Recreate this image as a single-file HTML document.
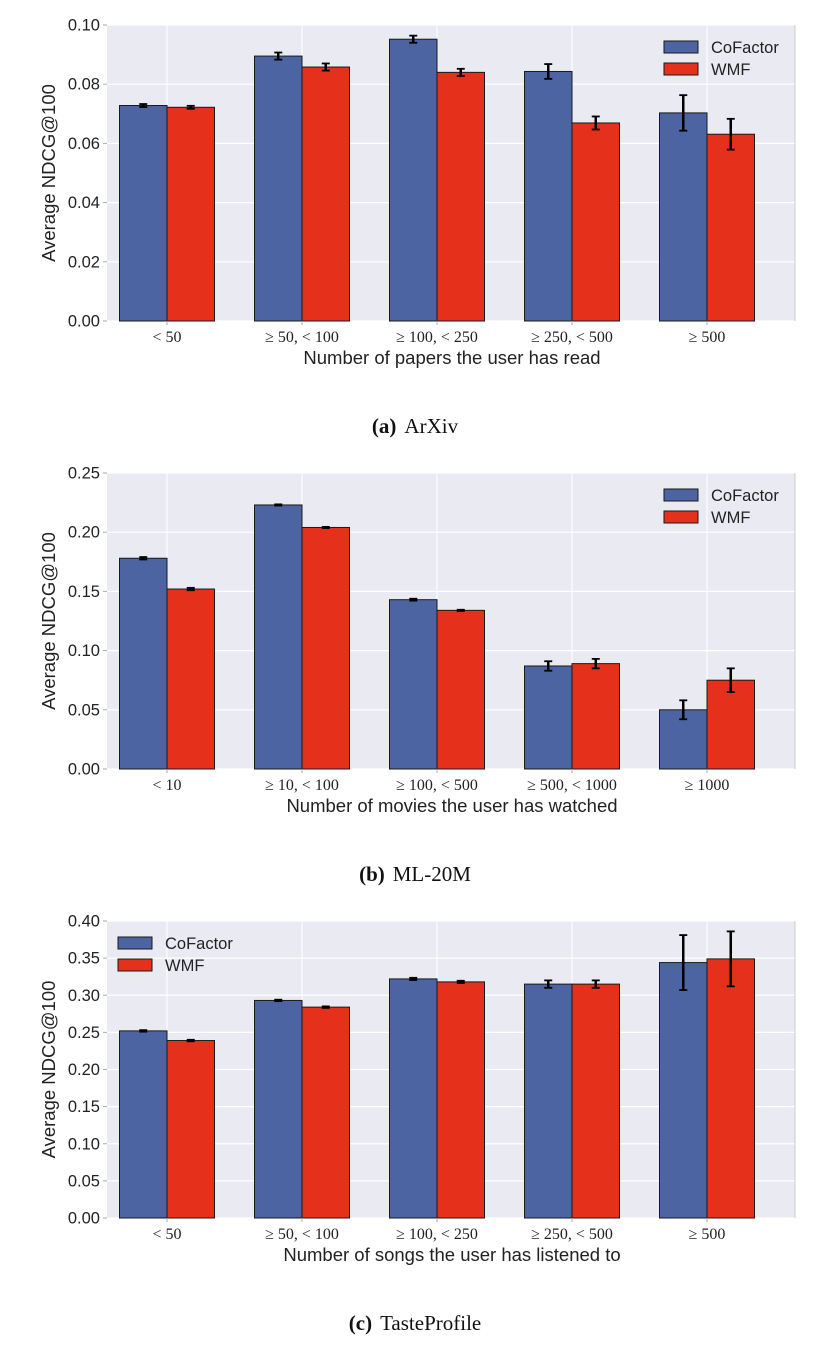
<!DOCTYPE html>
<html><head><meta charset="utf-8"><style>
body{margin:0;background:#fff;width:830px;height:1358px;overflow:hidden}
svg{display:block}
.sans{font-family:"Liberation Sans",sans-serif}
.serif{font-family:"Liberation Serif",serif}
</style></head><body>
<svg id="fig" width="830" height="1358" viewBox="0 0 830 1358"></svg>
<script>
const categoriesA = ["< 50","≥ 50, < 100","≥ 100, < 250","≥ 250, < 500","≥ 500"];
const cofactorA = [0.0728,0.0895,0.0952,0.0843,0.0703];
const cofactorErrA = [0.0005,0.0012,0.0012,0.0025,0.006];
const wmfA = [0.0722,0.0858,0.0840,0.0669,0.0631];
const wmfErrA = [0.0005,0.0012,0.0012,0.0022,0.0052];
const ticksA = [0,0.02,0.04,0.06,0.08,0.10];
const tickLabelsA = ["0.00","0.02","0.04","0.06","0.08","0.10"];

const categoriesB = ["< 10","≥ 10, < 100","≥ 100, < 500","≥ 500, < 1000","≥ 1000"];
const cofactorB = [0.178,0.223,0.143,0.087,0.050];
const cofactorErrB = [0.001,0.0005,0.0008,0.004,0.008];
const wmfB = [0.152,0.204,0.134,0.089,0.075];
const wmfErrB = [0.001,0.0005,0.0005,0.004,0.010];
const ticksB = [0,0.05,0.10,0.15,0.20,0.25];
const tickLabelsB = ["0.00","0.05","0.10","0.15","0.20","0.25"];

const categoriesC = ["< 50","≥ 50, < 100","≥ 100, < 250","≥ 250, < 500","≥ 500"];
const cofactorC = [0.252,0.293,0.322,0.315,0.344];
const cofactorErrC = [0.001,0.001,0.0015,0.005,0.037];
const wmfC = [0.239,0.284,0.318,0.315,0.349];
const wmfErrC = [0.001,0.001,0.0015,0.005,0.037];
const ticksC = [0,0.05,0.10,0.15,0.20,0.25,0.30,0.35,0.40];
const tickLabelsC = ["0.00","0.05","0.10","0.15","0.20","0.25","0.30","0.35","0.40"];

const NS="http://www.w3.org/2000/svg";
const svg=document.getElementById('fig');
function mk(tag,attrs,parent,text){const e=document.createElementNS(NS,tag);for(const k in attrs)e.setAttribute(k,attrs[k]);if(text!==undefined)e.textContent=text;(parent||svg).appendChild(e);return e;}

function chart(id,top,bottom,ymax,cats,b,be,r,re,ticks,tlabels,xlabel,legendLeft,capLetter,capName){
  const left=107,right=795;
  const g=mk('g',{});
  
  
  const y=v=>bottom-(v/ymax)*(bottom-top);
  const step=135, c0=167, bw=47.5;
  const xc=i=>c0+i*step;
  const bg=mk('rect',{x:left,y:top,width:right-left,height:bottom-top,fill:'#eaeaf2'},g);
  
  
  ticks.forEach((t,i)=>{
    const gl=mk('line',{x1:left,x2:right,y1:y(t),y2:y(t),stroke:'#fff','stroke-width':1.2},g);
    
    
    mk('line',{x1:left-4,x2:left,y1:y(t),y2:y(t),stroke:'#aaa'},g);
    const tl=mk('text',{x:left-7,y:y(t)+5.5,'text-anchor':'end','font-size':16.5,fill:'#222',class:'sans'},g,tlabels[i]);
    
    
  });
  cats.forEach((c,i)=>{
    const vl=mk('line',{x1:xc(i),x2:xc(i),y1:top,y2:bottom,stroke:'#fff','stroke-width':1.2},g);
    
    
  });
  mk('line',{x1:right,x2:right,y1:top,y2:bottom,stroke:'#ccc'},g);
  cats.forEach((c,i)=>{
    const bb=mk('rect',{x:xc(i)-bw,y:y(b[i]),width:bw,height:bottom-y(b[i]),fill:'#4c64a2',stroke:'#1a1a1a','stroke-width':1},g);
    
    
    const rb=mk('rect',{x:xc(i),y:y(r[i]),width:bw,height:bottom-y(r[i]),fill:'#e5301c',stroke:'#1a1a1a','stroke-width':1},g);
    
    
    [[xc(i)-bw/2,b[i],be[i]],[xc(i)+bw/2,r[i],re[i]]].forEach(([x,v,e])=>{
      const eg=mk('g',{stroke:'#000','stroke-width':2.5},g);
      
      
      mk('line',{x1:x,x2:x,y1:y(v+e),y2:y(v-e)},eg);
      mk('line',{x1:x-4,x2:x+4,y1:y(v+e),y2:y(v+e),'stroke-width':1.8},eg);
      mk('line',{x1:x-4,x2:x+4,y1:y(v-e),y2:y(v-e),'stroke-width':1.8},eg);
    });
    mk('line',{x1:xc(i),x2:xc(i),y1:bottom,y2:bottom+4,stroke:'#aaa'},g);
    const xl=mk('text',{x:xc(i),y:bottom+21,'text-anchor':'middle','font-size':16,fill:'#222',class:'serif'},g,c);
    
    
  });
  const xt=mk('text',{x:452,y:bottom+43,'text-anchor':'middle','font-size':18.5,fill:'#222',class:'sans'},g,xlabel);
  
  
  const yt=mk('text',{x:0,y:0,'text-anchor':'middle','font-size':18.5,fill:'#222',class:'sans',transform:`translate(55,${(top+bottom)/2}) rotate(-90)`},g,'Average NDCG@100');
  
  
  const lx=legendLeft?118:664, ly=top+16;
  [['CoFactor','#4c64a2'],['WMF','#e5301c']].forEach(([n,col],k)=>{
    const le=mk('g',{},g);
    
    
    mk('rect',{x:lx,y:ly+k*22,width:34,height:12,fill:col,stroke:'#1a1a1a'},le);
    mk('text',{x:lx+47,y:ly+k*22+12,'font-size':16.5,fill:'#222',class:'sans'},le,n);
  });
  const cap=mk('text',{x:415,y:bottom+112,'text-anchor':'middle','font-size':21,fill:'#111',class:'serif'},g);
  
  
  mk('tspan',{'font-weight':'bold'},cap,'('+capLetter+')');
  mk('tspan',{dx:8},cap,capName);
}
chart('arxiv',25,321,0.10,categoriesA,cofactorA,cofactorErrA,wmfA,wmfErrA,ticksA,tickLabelsA,'Number of papers the user has read',false,'a','ArXiv');
chart('ml20m',473,769,0.25,categoriesB,cofactorB,cofactorErrB,wmfB,wmfErrB,ticksB,tickLabelsB,'Number of movies the user has watched',false,'b','ML-20M');
chart('tasteprofile',921,1218,0.40,categoriesC,cofactorC,cofactorErrC,wmfC,wmfErrC,ticksC,tickLabelsC,'Number of songs the user has listened to',true,'c','TasteProfile');
</script>
</body></html>
